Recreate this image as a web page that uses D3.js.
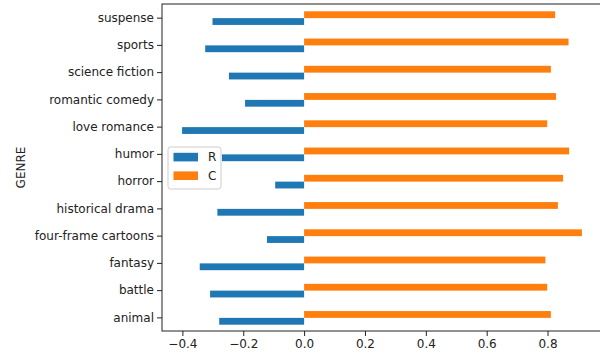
<!DOCTYPE html>
<html>
<head>
<meta charset="utf-8">
<script src="https://cdn.jsdelivr.net/npm/d3@7"></script>
<style>
  html, body { margin: 0; padding: 0; background: #fff; }
  svg { display: block; font-family: "DejaVu Sans", sans-serif; }
</style>
</head>
<body>
<svg id="chart" width="600" height="356"></svg>
<script>
// Genres, listed bottom to top as on the axis
const genres = ["animal", "battle", "fantasy", "four-frame cartoons", "historical drama",
  "horror", "humor", "love romance", "romantic comedy", "science fiction", "sports", "suspense"];
const seriesR = [-0.279, -0.309, -0.343, -0.122, -0.285, -0.095, -0.27, -0.401, -0.194, -0.247, -0.325, -0.301];
const seriesC = [0.811, 0.799, 0.793, 0.913, 0.834, 0.851, 0.871, 0.799, 0.828, 0.811, 0.869, 0.825];
const xTicks = [-0.4, -0.2, 0.0, 0.2, 0.4, 0.6, 0.8];
const seriesNames = ["R", "C"];
const colors = ["#1f77b4", "#ff7f0e"];

const svg = d3.select("#chart");
const plotL = 162, plotR = 602, plotT = 4, plotB = 331;

const x = d3.scaleLinear().domain([-0.467, 0.979]).range([plotL, plotR]);
const y = d3.scaleBand().domain(genres.slice().reverse()).range([plotT + 0.5, plotB + 0.5]);
const bh = y.bandwidth() * 0.25;
const cy = g => y(g) + y.bandwidth() / 2;

// R bars sit below the category centre, C bars above
svg.append("g").selectAll("rect").data(genres).join("rect")
  .attr("x", (g, i) => x(Math.min(0, seriesR[i])))
  .attr("width", (g, i) => Math.abs(x(seriesR[i]) - x(0)))
  .attr("y", g => cy(g))
  .attr("height", bh)
  .attr("fill", colors[0]);

svg.append("g").selectAll("rect").data(genres).join("rect")
  .attr("x", (g, i) => x(Math.min(0, seriesC[i])))
  .attr("width", (g, i) => Math.abs(x(seriesC[i]) - x(0)))
  .attr("y", g => cy(g) - bh)
  .attr("height", bh)
  .attr("fill", colors[1]);

// Axes
const xAxis = svg.append("g").attr("transform", `translate(0,${plotB})`)
  .call(d3.axisBottom(x).tickValues(xTicks).tickFormat(d3.format(".1f")).tickSize(5).tickPadding(3));
const yAxis = svg.append("g").attr("transform", `translate(${plotL},0)`)
  .call(d3.axisLeft(y).tickSize(5).tickPadding(3));
[xAxis, yAxis].forEach(a => {
  a.select(".domain").remove();
  a.selectAll("text").attr("font-size", 12).attr("fill", "#222").attr("font-family", "DejaVu Sans, sans-serif");
  a.selectAll("line").attr("stroke", "#222");
});

// Frame
svg.append("rect").attr("x", plotL).attr("y", plotT).attr("width", plotR - plotL).attr("height", plotB - plotT)
  .attr("fill", "none").attr("stroke", "#222").attr("stroke-width", 1);

// Axis title
svg.append("text").attr("transform", `translate(21,${(plotT + plotB) / 2}) rotate(-90)`)
  .attr("text-anchor", "middle").attr("dominant-baseline", "central")
  .attr("font-size", 12).attr("fill", "#222").text("GENRE");

// Legend
const lg = svg.append("g").attr("transform", "translate(168,147)");
lg.append("rect").attr("width", 53).attr("height", 42).attr("rx", 2.5)
  .attr("fill", "#fff").attr("fill-opacity", 0.8).attr("stroke", "#ccc");
seriesNames.forEach((n, i) => {
  lg.append("rect").attr("x", 5.5).attr("y", 5.8 + i * 18.6).attr("width", 24.5).attr("height", 8.6).attr("fill", colors[i]);
  lg.append("text").attr("x", 40).attr("y", 10.2 + i * 18.6).attr("dominant-baseline", "central")
    .attr("font-size", 12).attr("fill", "#222").text(n);
});
</script>
</body>
</html>
